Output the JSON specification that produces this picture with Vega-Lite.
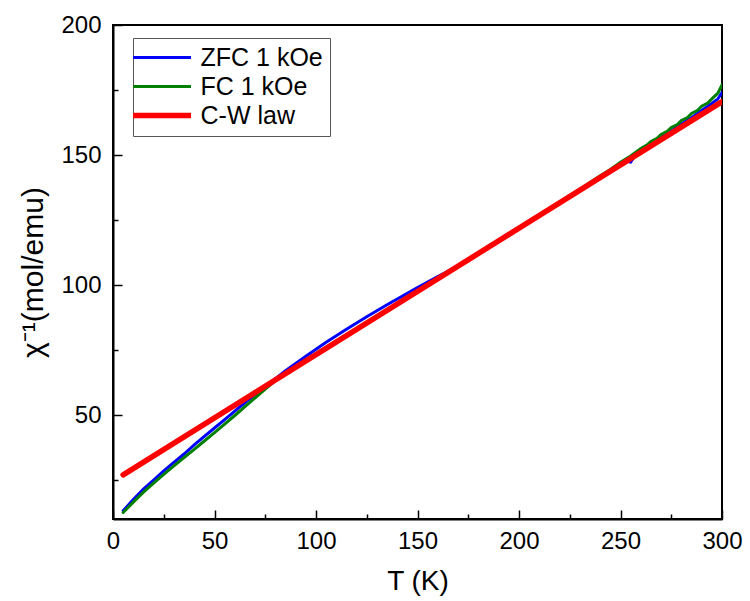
{
  "$schema": "https://vega.github.io/schema/vega-lite/v6.json",
  "autosize": "none",
  "width": 609,
  "height": 494,
  "padding": {"left": 113, "top": 25, "right": 28, "bottom": 82},
  "background": "white",
  "config": {
    "view": {"stroke": "black", "strokeWidth": 2},
    "font": "Liberation Sans"
  },
  "data": {
    "values": [
      {"T": 5, "chi": 13.2, "s": "ZFC 1 kOe"}, {"T": 10, "chi": 17.5, "s": "ZFC 1 kOe"}, {"T": 15, "chi": 21.5, "s": "ZFC 1 kOe"},
      {"T": 20, "chi": 25.0, "s": "ZFC 1 kOe"}, {"T": 25, "chi": 28.5, "s": "ZFC 1 kOe"}, {"T": 30, "chi": 31.8, "s": "ZFC 1 kOe"},
      {"T": 35, "chi": 35.0, "s": "ZFC 1 kOe"}, {"T": 40, "chi": 38.5, "s": "ZFC 1 kOe"}, {"T": 45, "chi": 41.8, "s": "ZFC 1 kOe"},
      {"T": 50, "chi": 45.0, "s": "ZFC 1 kOe"}, {"T": 55, "chi": 48.2, "s": "ZFC 1 kOe"}, {"T": 60, "chi": 51.5, "s": "ZFC 1 kOe"},
      {"T": 65, "chi": 54.8, "s": "ZFC 1 kOe"}, {"T": 70, "chi": 58.0, "s": "ZFC 1 kOe"}, {"T": 75, "chi": 61.0, "s": "ZFC 1 kOe"},
      {"T": 80, "chi": 64.0, "s": "ZFC 1 kOe"}, {"T": 85, "chi": 67.0, "s": "ZFC 1 kOe"}, {"T": 90, "chi": 69.8, "s": "ZFC 1 kOe"},
      {"T": 95, "chi": 72.6, "s": "ZFC 1 kOe"}, {"T": 100, "chi": 75.3, "s": "ZFC 1 kOe"}, {"T": 105, "chi": 78.0, "s": "ZFC 1 kOe"},
      {"T": 110, "chi": 80.5, "s": "ZFC 1 kOe"}, {"T": 115, "chi": 83.0, "s": "ZFC 1 kOe"}, {"T": 120, "chi": 85.4, "s": "ZFC 1 kOe"},
      {"T": 125, "chi": 87.8, "s": "ZFC 1 kOe"}, {"T": 130, "chi": 90.1, "s": "ZFC 1 kOe"}, {"T": 135, "chi": 92.4, "s": "ZFC 1 kOe"},
      {"T": 140, "chi": 94.6, "s": "ZFC 1 kOe"}, {"T": 145, "chi": 96.8, "s": "ZFC 1 kOe"}, {"T": 150, "chi": 99.0, "s": "ZFC 1 kOe"},
      {"T": 155, "chi": 101.1, "s": "ZFC 1 kOe"}, {"T": 160, "chi": 103.2, "s": "ZFC 1 kOe"}, {"T": 165, "chi": 105.3, "s": "ZFC 1 kOe"},
      {"T": 170, "chi": 107.5, "s": "ZFC 1 kOe"}, {"T": 175, "chi": 109.8, "s": "ZFC 1 kOe"}, {"T": 180, "chi": 112.3, "s": "ZFC 1 kOe"},
      {"T": 185, "chi": 114.8, "s": "ZFC 1 kOe"}, {"T": 190, "chi": 117.2, "s": "ZFC 1 kOe"}, {"T": 195, "chi": 119.6, "s": "ZFC 1 kOe"},
      {"T": 200, "chi": 122.0, "s": "ZFC 1 kOe"}, {"T": 205, "chi": 124.4, "s": "ZFC 1 kOe"}, {"T": 210, "chi": 126.8, "s": "ZFC 1 kOe"},
      {"T": 215, "chi": 129.2, "s": "ZFC 1 kOe"}, {"T": 220, "chi": 131.6, "s": "ZFC 1 kOe"}, {"T": 225, "chi": 134.0, "s": "ZFC 1 kOe"},
      {"T": 230, "chi": 136.5, "s": "ZFC 1 kOe"}, {"T": 235, "chi": 139.2, "s": "ZFC 1 kOe"}, {"T": 240, "chi": 141.5, "s": "ZFC 1 kOe"},
      {"T": 245, "chi": 144.2, "s": "ZFC 1 kOe"}, {"T": 250, "chi": 146.6, "s": "ZFC 1 kOe"}, {"T": 253, "chi": 147.6, "s": "ZFC 1 kOe"},
      {"T": 255, "chi": 147.3, "s": "ZFC 1 kOe"}, {"T": 257, "chi": 149.6, "s": "ZFC 1 kOe"}, {"T": 260, "chi": 151.5, "s": "ZFC 1 kOe"},
      {"T": 265, "chi": 154.0, "s": "ZFC 1 kOe"}, {"T": 270, "chi": 156.8, "s": "ZFC 1 kOe"}, {"T": 275, "chi": 159.2, "s": "ZFC 1 kOe"},
      {"T": 280, "chi": 161.9, "s": "ZFC 1 kOe"}, {"T": 285, "chi": 164.3, "s": "ZFC 1 kOe"}, {"T": 290, "chi": 167.1, "s": "ZFC 1 kOe"},
      {"T": 295, "chi": 169.8, "s": "ZFC 1 kOe"}, {"T": 298, "chi": 171.6, "s": "ZFC 1 kOe"}, {"T": 300, "chi": 174.0, "s": "ZFC 1 kOe"},

      {"T": 5, "chi": 12.5, "s": "FC 1 kOe"}, {"T": 10, "chi": 16.5, "s": "FC 1 kOe"}, {"T": 15, "chi": 20.3, "s": "FC 1 kOe"},
      {"T": 20, "chi": 23.8, "s": "FC 1 kOe"}, {"T": 25, "chi": 27.2, "s": "FC 1 kOe"}, {"T": 30, "chi": 30.4, "s": "FC 1 kOe"},
      {"T": 35, "chi": 33.6, "s": "FC 1 kOe"}, {"T": 40, "chi": 36.8, "s": "FC 1 kOe"}, {"T": 45, "chi": 40.0, "s": "FC 1 kOe"},
      {"T": 50, "chi": 43.2, "s": "FC 1 kOe"}, {"T": 55, "chi": 46.5, "s": "FC 1 kOe"}, {"T": 60, "chi": 49.8, "s": "FC 1 kOe"},
      {"T": 65, "chi": 53.2, "s": "FC 1 kOe"}, {"T": 70, "chi": 56.6, "s": "FC 1 kOe"}, {"T": 75, "chi": 60.0, "s": "FC 1 kOe"},
      {"T": 80, "chi": 63.2, "s": "FC 1 kOe"}, {"T": 85, "chi": 66.0, "s": "FC 1 kOe"}, {"T": 90, "chi": 68.7, "s": "FC 1 kOe"},
      {"T": 95, "chi": 71.2, "s": "FC 1 kOe"}, {"T": 100, "chi": 73.6, "s": "FC 1 kOe"}, {"T": 105, "chi": 76.0, "s": "FC 1 kOe"},
      {"T": 110, "chi": 78.5, "s": "FC 1 kOe"}, {"T": 115, "chi": 80.9, "s": "FC 1 kOe"}, {"T": 120, "chi": 83.3, "s": "FC 1 kOe"},
      {"T": 125, "chi": 85.7, "s": "FC 1 kOe"}, {"T": 130, "chi": 88.1, "s": "FC 1 kOe"}, {"T": 135, "chi": 90.5, "s": "FC 1 kOe"},
      {"T": 140, "chi": 92.9, "s": "FC 1 kOe"}, {"T": 145, "chi": 95.3, "s": "FC 1 kOe"}, {"T": 150, "chi": 97.8, "s": "FC 1 kOe"},
      {"T": 155, "chi": 100.2, "s": "FC 1 kOe"}, {"T": 160, "chi": 102.6, "s": "FC 1 kOe"}, {"T": 165, "chi": 105.1, "s": "FC 1 kOe"},
      {"T": 170, "chi": 107.5, "s": "FC 1 kOe"}, {"T": 175, "chi": 110.0, "s": "FC 1 kOe"}, {"T": 180, "chi": 112.4, "s": "FC 1 kOe"},
      {"T": 185, "chi": 114.8, "s": "FC 1 kOe"}, {"T": 190, "chi": 117.3, "s": "FC 1 kOe"}, {"T": 195, "chi": 119.8, "s": "FC 1 kOe"},
      {"T": 200, "chi": 122.2, "s": "FC 1 kOe"}, {"T": 205, "chi": 124.6, "s": "FC 1 kOe"}, {"T": 210, "chi": 127.0, "s": "FC 1 kOe"},
      {"T": 215, "chi": 129.5, "s": "FC 1 kOe"}, {"T": 220, "chi": 131.9, "s": "FC 1 kOe"}, {"T": 225, "chi": 134.4, "s": "FC 1 kOe"},
      {"T": 230, "chi": 136.9, "s": "FC 1 kOe"}, {"T": 235, "chi": 139.4, "s": "FC 1 kOe"}, {"T": 240, "chi": 142.0, "s": "FC 1 kOe"},
      {"T": 245, "chi": 144.4, "s": "FC 1 kOe"}, {"T": 250, "chi": 147.2, "s": "FC 1 kOe"}, {"T": 255, "chi": 149.6, "s": "FC 1 kOe"},
      {"T": 260, "chi": 152.5, "s": "FC 1 kOe"}, {"T": 263, "chi": 153.8, "s": "FC 1 kOe"}, {"T": 265, "chi": 155.2, "s": "FC 1 kOe"},
      {"T": 268, "chi": 156.4, "s": "FC 1 kOe"}, {"T": 270, "chi": 157.9, "s": "FC 1 kOe"}, {"T": 273, "chi": 159.1, "s": "FC 1 kOe"},
      {"T": 275, "chi": 160.6, "s": "FC 1 kOe"}, {"T": 278, "chi": 161.7, "s": "FC 1 kOe"}, {"T": 280, "chi": 163.3, "s": "FC 1 kOe"},
      {"T": 283, "chi": 164.4, "s": "FC 1 kOe"}, {"T": 285, "chi": 166.0, "s": "FC 1 kOe"}, {"T": 288, "chi": 167.2, "s": "FC 1 kOe"},
      {"T": 290, "chi": 168.8, "s": "FC 1 kOe"}, {"T": 293, "chi": 170.0, "s": "FC 1 kOe"}, {"T": 295, "chi": 171.6, "s": "FC 1 kOe"},
      {"T": 298, "chi": 173.8, "s": "FC 1 kOe"}, {"T": 300, "chi": 177.0, "s": "FC 1 kOe"},

      {"T": 5, "chi": 27.0, "s": "C-W law"}, {"T": 300, "chi": 170.5, "s": "C-W law"}
    ]
  },
  "layer": [
    {
      "transform": [{"filter": "datum.s !== 'C-W law'"}],
      "mark": {"type": "line", "strokeWidth": 3, "strokeCap": "round", "clip": true},
      "encoding": {
        "x": {
          "field": "T", "type": "quantitative",
          "scale": {"domain": [0, 300], "nice": false, "zero": false},
          "axis": {
            "orient": "bottom",
            "values": [0, 50, 100, 150, 200, 250, 300],
            "title": "T (K)", "titleFontSize": 28, "titleFont": "Liberation Sans", "titleFontWeight": "normal", "titlePadding": 14, "titleColor": "black",
            "labelFontSize": 24, "labelFont": "Liberation Sans", "labelColor": "black", "labelPadding": 19, "labelFlush": false,
            "tickSize": -9, "tickWidth": 1.5, "tickColor": "black",
            "domainColor": "black", "domainWidth": 2, "grid": false
          }
        },
        "y": {
          "field": "chi", "type": "quantitative",
          "scale": {"domain": [10, 200], "nice": false, "zero": false},
          "axis": {
            "orient": "left",
            "values": [50, 100, 150, 200],
            "title": "χ⁻¹(mol/emu)", "titleFontSize": 30, "titleFont": "Liberation Sans", "titleFontWeight": "normal", "titlePadding": 12, "titleColor": "black",
            "labelFontSize": 24, "labelFont": "Liberation Sans", "labelColor": "black", "labelPadding": 21, "labelFlush": false,
            "tickSize": -9, "tickWidth": 1.5, "tickColor": "black",
            "domainColor": "black", "domainWidth": 2, "grid": false
          }
        },
        "color": {
          "field": "s", "type": "nominal", "sort": null,
          "scale": {"domain": ["ZFC 1 kOe", "FC 1 kOe", "C-W law"], "range": ["#0000ff", "#008000", "#ff0000"]},
          "legend": {
            "title": null, "orient": "none", "legendX": 20, "legendY": 13,
            "symbolType": "stroke", "symbolSize": 3364, "symbolStrokeWidth": 3,
            "labelFontSize": 25, "labelFont": "Liberation Sans", "labelColor": "black",
            "rowPadding": 3, "padding": 7, "strokeColor": "#555555", "fillColor": "white",
            "symbolOffset": 9.5, "labelOffset": 26,
            "encode": {"symbols": {"update": {"strokeWidth": {"signal": "datum.value === 'C-W law' ? 5.5 : 3"}}}}
          }
        }
      }
    },
    {
      "transform": [{"filter": "datum.s === 'C-W law'"}],
      "mark": {"type": "line", "strokeWidth": 5.5, "strokeCap": "round", "clip": true},
      "encoding": {
        "x": {"field": "T", "type": "quantitative", "axis": null},
        "y": {"field": "chi", "type": "quantitative", "axis": null},
        "color": {"field": "s", "type": "nominal", "sort": null}
      }
    },
    {
      "mark": {"type": "rule", "opacity": 0},
      "encoding": {
        "x": {
          "field": "T", "type": "quantitative",
          "axis": {
            "orient": "bottom", "values": [25, 75, 125, 175, 225, 275],
            "labels": false, "title": null, "domain": false, "grid": false,
            "tickSize": -5, "tickWidth": 1.5, "tickColor": "black"
          }
        },
        "y": {
          "field": "chi", "type": "quantitative",
          "axis": {
            "orient": "left", "values": [25, 75, 125, 175],
            "labels": false, "title": null, "domain": false, "grid": false,
            "tickSize": -5, "tickWidth": 1.5, "tickColor": "black"
          }
        }
      }
    }
  ],
  "resolve": {"axis": {"x": "independent", "y": "independent"}}
}
